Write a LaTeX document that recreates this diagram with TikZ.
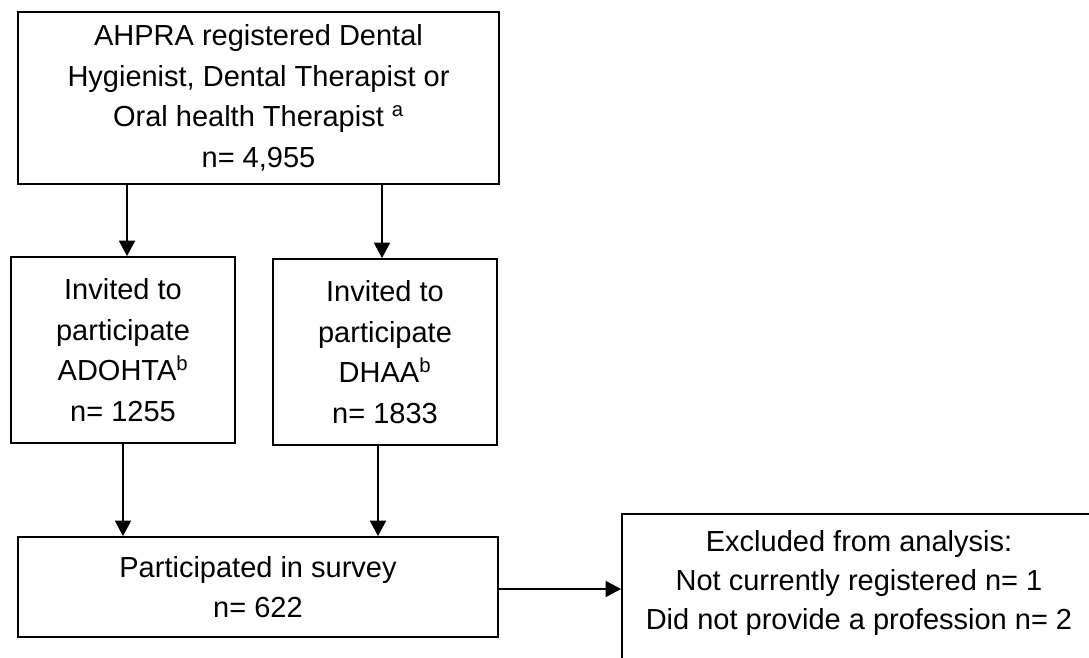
\documentclass[tikz,border=0pt]{standalone}
\usepackage{fontspec}
\setmainfont{Liberation Sans}
\usetikzlibrary{arrows.meta}
\tikzset{
  box/.style={draw=black, line width=1.4pt, rectangle, inner sep=0pt, align=center,
    font=\fontsize{21.75pt}{30.5pt}\selectfont},
  txt/.style={inner sep=0pt, align=center, font=\fontsize{21.75pt}{29.5pt}\selectfont},
  arr/.style={line width=1.1pt, -{Triangle[width=12pt,length=11.5pt]}}
}
\begin{document}
\begin{tikzpicture}[x=0.75pt,y=-0.75pt]
\useasboundingbox (0,0) rectangle (1089,657);
\clip (0,0) rectangle (1089,657);
\fill[white] (0,0) rectangle (1089,657);
\node[box, minimum width=360.75pt, minimum height=129pt] (top) at (258.5,98)
  {AHPRA registered Dental\\Hygienist, Dental Therapist or\\Oral health Therapist \textsuperscript{a}\\n= 4,955};
\node[box, minimum width=168pt, minimum height=139.5pt] (lm) at (123,350)
  {Invited to\\participate\\ADOHTA\textsuperscript{b}\\n= 1255};
\node[box, minimum width=168pt, minimum height=139.5pt] (rm) at (385,352)
  {Invited to\\participate\\DHAA\textsuperscript{b}\\n= 1833};
\node[box, minimum width=360pt, minimum height=75pt] (bot) at (258,587)
  {Participated in survey\\n= 622};
\node[box, minimum width=357pt, minimum height=117.75pt, anchor=north west] (ex) at (621,513) {};
\node[txt] (exT) at (859,583)
  {Excluded from analysis:\\Not currently registered n= 1\\Did not provide a profession n= 2};
\draw[arr] ([xshift=3pt]top.south -| lm.north) -- ([xshift=3pt]lm.north);
\draw[arr] ([xshift=-2.25pt]top.south -| rm.north) -- ([xshift=-2.25pt]rm.north);
\draw[arr] (lm.south) -- (lm.south |- bot.north);
\draw[arr] ([xshift=-5.25pt]rm.south) -- ([xshift=-5.25pt]rm.south |- bot.north);
\draw[arr] ([yshift=-1.5pt]bot.east) -- ([yshift=-1.5pt]bot.east -| ex.west);
\end{tikzpicture}
\end{document}
